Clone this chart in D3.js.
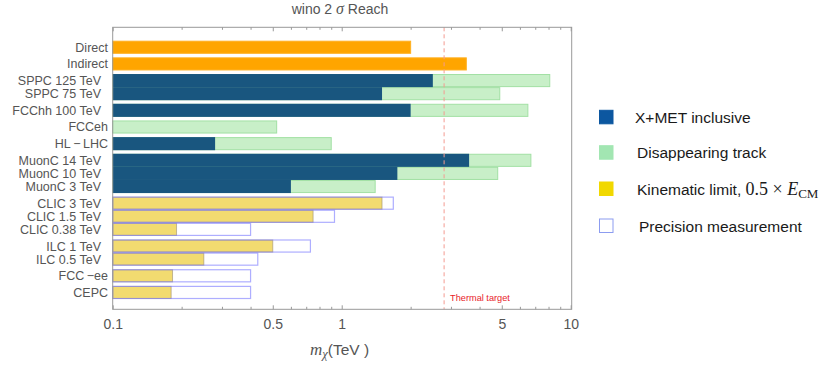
<!DOCTYPE html>
<html><head><meta charset="utf-8">
<script src="https://cdn.jsdelivr.net/npm/d3@7"></script>
<style>body{margin:0;background:#fff} svg{display:block}</style>
</head><body>
<svg id="c" width="830" height="365"></svg>
<script>
// ---- data ----
const categories = ["Direct","Indirect","SPPC 125 TeV","SPPC 75 TeV","FCChh 100 TeV","FCCeh",
  "HL\u2009\u2212\u2009LHC","MuonC 14 TeV","MuonC 10 TeV","MuonC 3 TeV","CLIC 3 TeV","CLIC 1.5 TeV",
  "CLIC 0.38 TeV","ILC 1 TeV","ILC 0.5 TeV","FCC\u2009\u2212ee","CEPC"];
const groupSizes = [1,1,2,1,1,1,3,3,2,1,1];
const currentReach = [2.0,3.5,null,null,null,null,null,null,null,null,null,null,null,null,null,null,null];
const xmetInclusive = [null,null,2.5,1.5,2.0,null,0.28,3.6,1.75,0.6,null,null,null,null,null,null,null];
const disappearingTrack = [null,null,8.1,4.9,6.5,0.52,0.9,6.7,4.8,1.4,null,null,null,null,null,null,null];
const kinematicLimit = [null,null,null,null,null,null,null,null,null,null,1.5,0.75,0.19,0.5,0.25,0.1825,0.18];
const precision = [null,null,null,null,null,null,null,null,null,null,1.68,0.93,0.40,0.73,0.43,0.40,0.40];
const thermalTarget = 2.8;
const majorTicks = [0.1,0.5,1,5,10];
const minorTicks = [0.2,0.3,0.4,0.6,0.7,0.8,0.9,2,3,4,6,7,8,9];
const legendItems = ["X+MET inclusive","Disappearing track","Kinematic limit, ","Precision measurement"];

// ---- layout ----
const svg = d3.select("#c");
const plot = {left:112.7, right:571.7, top:27.3, bottom:309.3};
const x = d3.scaleLog().domain([0.1,10.1]).range([plot.left, plot.right]);
const gapFrac = 0.272;
const rowStart = [];
let u = 0;
groupSizes.forEach((n,g)=>{ for(let k=0;k<n;k++){ rowStart.push(u); u+=1; } u+=gapFrac; });
const totalUnits = u - gapFrac;
const y = d3.scaleLinear().domain([0,totalUnits]).range([40.7,299]);
const rowH = y(1)-y(0);

const rows = categories.map((c,i)=>({c,i,cur:currentReach[i],xm:xmetInclusive[i],dt:disappearingTrack[i],kl:kinematicLimit[i],pr:precision[i]}));

// disappearing track (under)
svg.append("g").selectAll("rect").data(rows.filter(d=>d.dt!=null)).join("rect")
  .attr("x",x(0.1)).attr("y",d=>y(rowStart[d.i])+0.5).attr("height",rowH-1)
  .attr("width",d=>x(d.dt)-x(0.1))
  .attr("fill","#c8efc8").attr("stroke","#a2e0a4").attr("stroke-width",1);
// xmet
svg.append("g").selectAll("rect").data(rows.filter(d=>d.xm!=null)).join("rect")
  .attr("x",x(0.1)).attr("y",d=>y(rowStart[d.i])).attr("height",rowH)
  .attr("width",d=>x(d.xm)-x(0.1))
  .attr("fill","#19567f");
// current (orange)
svg.append("g").selectAll("rect").data(rows.filter(d=>d.cur!=null)).join("rect")
  .attr("x",x(0.1)).attr("y",d=>y(rowStart[d.i])+0.5).attr("height",rowH-1)
  .attr("width",d=>x(d.cur)-x(0.1))
  .attr("fill","#ffa500").attr("stroke","#ffb020").attr("stroke-width",1);
// kinematic (yellow)
svg.append("g").selectAll("rect").data(rows.filter(d=>d.kl!=null)).join("rect")
  .attr("x",x(0.1)).attr("y",d=>y(rowStart[d.i])+0.5).attr("height",rowH-1)
  .attr("width",d=>x(d.kl)-x(0.1))
  .attr("fill","#f2db70").attr("stroke","rgba(150,135,110,0.55)").attr("stroke-width",1);
// precision outlines
svg.append("g").selectAll("rect").data(rows.filter(d=>d.pr!=null)).join("rect")
  .attr("x",x(0.1)).attr("y",d=>y(rowStart[d.i])+0.5).attr("height",rowH-1)
  .attr("width",d=>x(d.pr)-x(0.1))
  .attr("fill","none").attr("stroke","rgba(120,120,255,0.6)").attr("stroke-width",1.2);

// thermal line
svg.append("line").attr("x1",x(thermalTarget)).attr("x2",x(thermalTarget))
  .attr("y1",plot.top).attr("y2",plot.bottom)
  .attr("stroke","#f49a90").attr("stroke-width",1).attr("stroke-dasharray","4,3");
svg.append("text").attr("x",x(thermalTarget)+6).attr("y",301)
  .attr("font-family","Liberation Sans, Arial, sans-serif").attr("font-size",9.2)
  .attr("fill","#e8232a").text("Thermal target");

// frame
svg.append("rect").attr("x",plot.left).attr("y",plot.top)
  .attr("width",plot.right-plot.left).attr("height",plot.bottom-plot.top)
  .attr("fill","none").attr("stroke","#999").attr("stroke-width",1);

// axes
const fmt = d=>d3.format("~g")(d);
const axB = svg.append("g").attr("transform",`translate(0,${plot.bottom})`)
  .call(d3.axisBottom(x).tickValues(majorTicks).tickFormat(fmt).tickSizeInner(-4).tickSizeOuter(0).tickPadding(10));
const axBm = svg.append("g").attr("transform",`translate(0,${plot.bottom})`)
  .call(d3.axisBottom(x).tickValues(minorTicks).tickFormat("").tickSizeInner(-2.5).tickSizeOuter(0));
const axT = svg.append("g").attr("transform",`translate(0,${plot.top})`)
  .call(d3.axisTop(x).tickValues(majorTicks).tickFormat("").tickSizeInner(-4).tickSizeOuter(0));
const axTm = svg.append("g").attr("transform",`translate(0,${plot.top})`)
  .call(d3.axisTop(x).tickValues(minorTicks).tickFormat("").tickSizeInner(-2.5).tickSizeOuter(0));
[axB,axBm,axT,axTm].forEach(a=>{a.select(".domain").remove(); a.selectAll("line").attr("stroke","#999");});
axB.selectAll("text").attr("font-family","Liberation Sans, Arial, sans-serif").attr("font-size",14).attr("fill","#555");

// category labels
svg.append("g").selectAll("text").data(rows).join("text")
  .attr("x",108).attr("dx",d=>/TeV$/.test(d.c)?-7:0)
  .attr("y",d=>y(rowStart[d.i])+rowH/2).attr("dy","0.36em")
  .attr("text-anchor","end").attr("font-family","Liberation Sans, Arial, sans-serif")
  .attr("font-size",12.5).attr("fill","#555").text(d=>d.c);

// title
const t = svg.append("text").attr("x",340).attr("y",14).attr("text-anchor","middle")
  .attr("font-family","Liberation Sans, Arial, sans-serif").attr("font-size",14).attr("fill","#555");
t.append("tspan").text("wino 2 ");
t.append("tspan").attr("font-family","Liberation Serif, Times New Roman, serif").attr("font-style","italic").attr("font-size",16).text("\u03c3");
t.append("tspan").text(" Reach");

// x axis label
const xl = svg.append("text").attr("x",310).attr("y",355)
  .attr("font-family","Liberation Sans, Arial, sans-serif").attr("font-size",15.5).attr("fill","#555");
xl.append("tspan").attr("font-family","Liberation Serif, Times New Roman, serif").attr("font-style","italic").attr("font-size",17).text("m");
xl.append("tspan").attr("font-family","Liberation Serif, Times New Roman, serif").attr("font-style","italic").attr("font-size",12.5).attr("dy",3).text("\u03c7");
xl.append("tspan").attr("dy",-3).text("(TeV )");

// legend
const legY = [117.3,152.7,189,226];
const lg = svg.append("g");
const swatch = [{f:"#0c57a0",s:"#0c57a0"},{f:"#a2e6b2",s:"#a2e6b2"},{f:"#f1d800",s:"#f1d800"},{f:"#fff",s:"#8c9cf0"}];
legendItems.forEach((name,i)=>{
  lg.append("rect").attr("x",599.5).attr("y",legY[i]-7).attr("width",13.5).attr("height",13.5)
    .attr("fill",swatch[i].f).attr("stroke",swatch[i].s).attr("stroke-width",1);
  const tx = lg.append("text").attr("x",i===0?635:(i===3?639:637)).attr("y",legY[i]).attr("dy","0.36em")
    .attr("font-family","Liberation Sans, Arial, sans-serif").attr("font-size",15.5).attr("fill","#1a1a1a");
  tx.append("tspan").text(name);
  if(i===2){
    tx.append("tspan").attr("font-family","Liberation Serif, Times New Roman, serif").attr("font-size",18).text("0.5 \u00d7 ");
    tx.append("tspan").attr("font-family","Liberation Serif, Times New Roman, serif").attr("font-style","italic").attr("font-size",18).text("E");
    tx.append("tspan").attr("font-family","Liberation Serif, Times New Roman, serif").attr("font-size",13).attr("dy",3).text("CM");
  }
});
</script>
</body></html>
